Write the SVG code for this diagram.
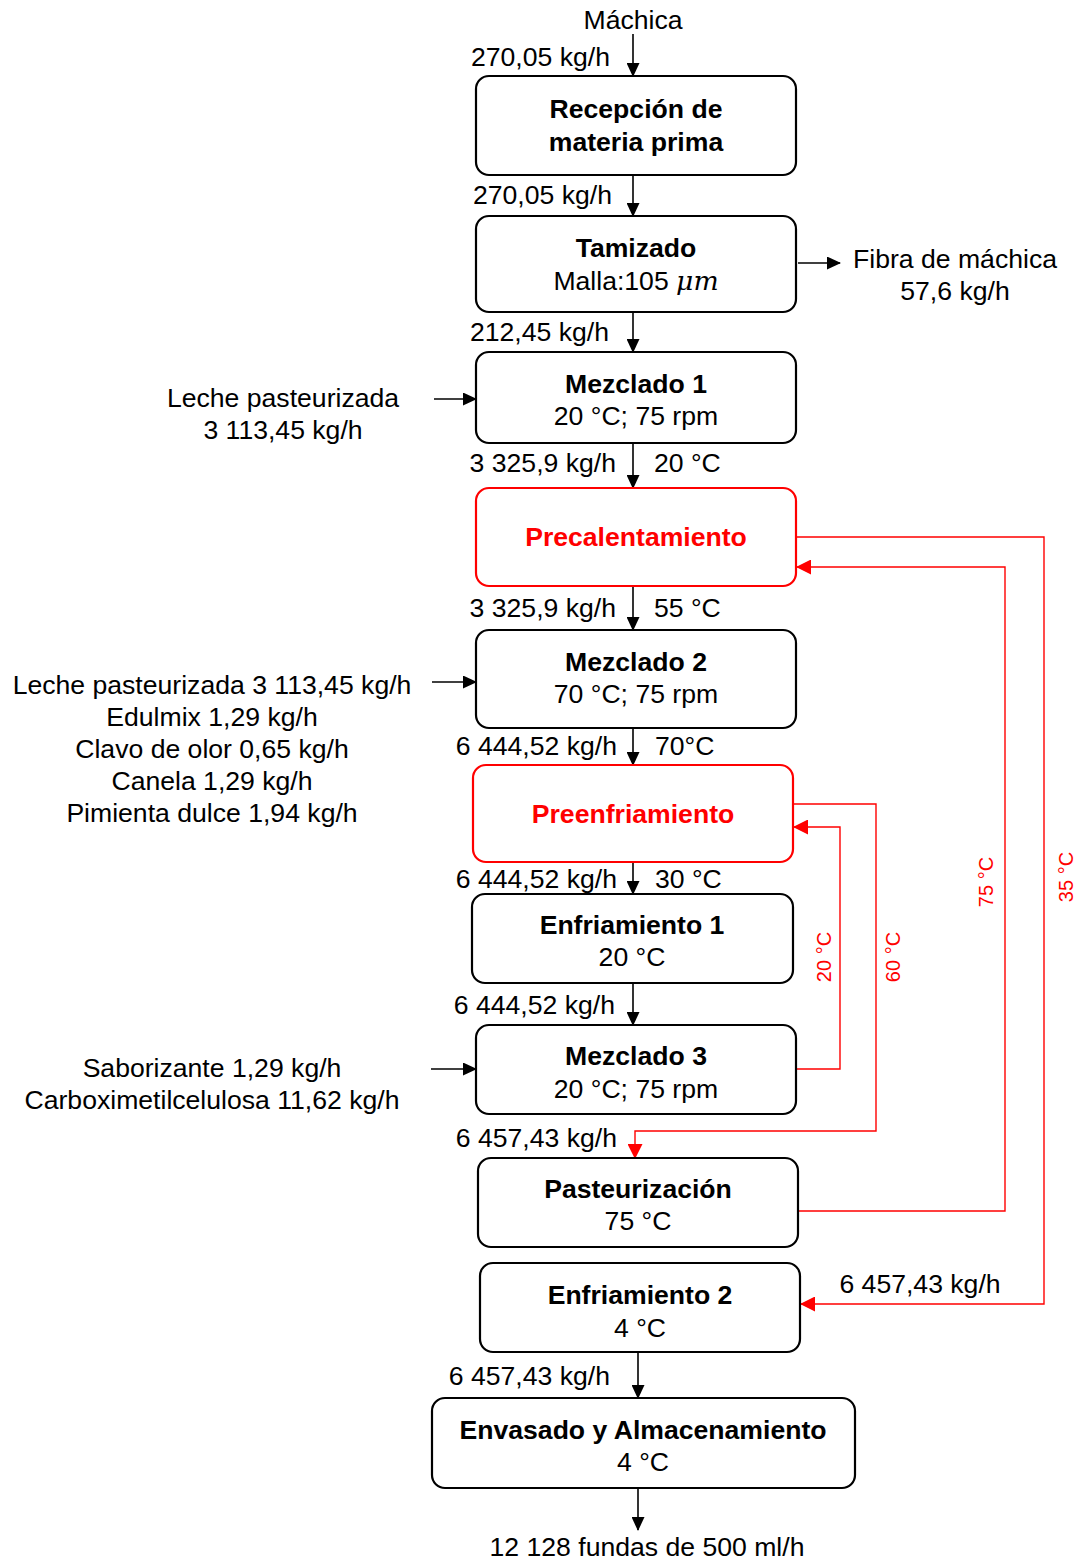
<svg xmlns="http://www.w3.org/2000/svg" width="1078" height="1562" viewBox="0 0 1078 1562">
<defs>
<marker id="ab" markerWidth="14" markerHeight="13" refX="13" refY="6.5" orient="auto" markerUnits="userSpaceOnUse"><path d="M0,0 L14,6.5 L0,13 z" fill="#000"/></marker>
<marker id="ar" markerWidth="15" markerHeight="15" refX="14" refY="7.5" orient="auto" markerUnits="userSpaceOnUse"><path d="M0,0 L15,7.5 L0,15 z" fill="#ff0000"/></marker>
</defs>
<style>
text{font-family:"Liberation Sans",Arial,Helvetica,sans-serif;font-size:26.6px;fill:#000}
.c{text-anchor:middle}
.e{text-anchor:end}
.b{font-weight:bold}
.r{fill:#ff0000}
.s{font-size:20px}
.box{fill:#fff;stroke:#000;stroke-width:2.2}
.rbox{fill:#fff;stroke:#ff0000;stroke-width:2.2}
.k{fill:none;stroke:#000;stroke-width:1.6}
.rl{fill:none;stroke:#ff0000;stroke-width:1.4}
</style>
<g id="connectors">
<line class="k" x1="633" y1="34" x2="633" y2="76" marker-end="url(#ab)"/>
<line class="k" x1="633" y1="175" x2="633" y2="216" marker-end="url(#ab)"/>
<line class="k" x1="798" y1="263" x2="840" y2="263" marker-end="url(#ab)"/>
<line class="k" x1="633" y1="312" x2="633" y2="352" marker-end="url(#ab)"/>
<line class="k" x1="434" y1="399" x2="476" y2="399" marker-end="url(#ab)"/>
<line class="k" x1="633" y1="443" x2="633" y2="488" marker-end="url(#ab)"/>
<line class="k" x1="633" y1="586" x2="633" y2="630" marker-end="url(#ab)"/>
<line class="k" x1="432" y1="682" x2="476" y2="682" marker-end="url(#ab)"/>
<line class="k" x1="633" y1="728" x2="633" y2="765" marker-end="url(#ab)"/>
<line class="k" x1="633" y1="862" x2="633" y2="894" marker-end="url(#ab)"/>
<line class="k" x1="633" y1="983" x2="633" y2="1025" marker-end="url(#ab)"/>
<line class="k" x1="431" y1="1069" x2="476" y2="1069" marker-end="url(#ab)"/>
<line class="k" x1="638" y1="1352" x2="638" y2="1398" marker-end="url(#ab)"/>
<line class="k" x1="638" y1="1488" x2="638" y2="1530" marker-end="url(#ab)"/>
<polyline class="rl" points="796,537 1044,537 1044,1304 801,1304" marker-end="url(#ar)"/>
<polyline class="rl" points="798,1211 1005,1211 1005,567 797,567" marker-end="url(#ar)"/>
<polyline class="rl" points="793,804 876,804 876,1131 635,1131 635,1158" marker-end="url(#ar)"/>
<polyline class="rl" points="796,1069 840,1069 840,827 794,827" marker-end="url(#ar)"/>
</g>
<g id="n1"><rect class="box" x="476" y="76" width="320" height="99" rx="13"/><text class="c b" x="636" y="118">Recepción de</text><text class="c b" x="636" y="151">materia prima</text></g>
<g id="n2"><rect class="box" x="476" y="216" width="320" height="96" rx="13"/><text class="c b" x="636" y="257">Tamizado</text><text class="c" x="636" y="290">Malla:105 <tspan font-family="'DejaVu Serif','Liberation Serif',serif" font-style="italic">μm</tspan></text></g>
<g id="n3"><rect class="box" x="476" y="352" width="320" height="91" rx="13"/><text class="c b" x="636" y="393">Mezclado 1</text><text class="c" x="636" y="425">20 °C; 75 rpm</text></g>
<g id="n4"><rect class="rbox" x="476" y="488" width="320" height="98" rx="13"/><text class="c b r" x="636" y="546">Precalentamiento</text></g>
<g id="n5"><rect class="box" x="476" y="630" width="320" height="98" rx="13"/><text class="c b" x="636" y="671">Mezclado 2</text><text class="c" x="636" y="703">70 °C; 75 rpm</text></g>
<g id="n6"><rect class="rbox" x="473" y="765" width="320" height="97" rx="13"/><text class="c b r" x="633" y="823">Preenfriamiento</text></g>
<g id="n7"><rect class="box" x="472" y="894" width="321" height="89" rx="13"/><text class="c b" x="632" y="934">Enfriamiento 1</text><text class="c" x="632" y="966">20 °C</text></g>
<g id="n8"><rect class="box" x="476" y="1025" width="320" height="89" rx="13"/><text class="c b" x="636" y="1065">Mezclado 3</text><text class="c" x="636" y="1098">20 °C; 75 rpm</text></g>
<g id="n9"><rect class="box" x="478" y="1158" width="320" height="89" rx="13"/><text class="c b" x="638" y="1198">Pasteurización</text><text class="c" x="638" y="1230">75 °C</text></g>
<g id="n10"><rect class="box" x="480" y="1263" width="320" height="89" rx="13"/><text class="c b" x="640" y="1304">Enfriamiento 2</text><text class="c" x="640" y="1337">4 °C</text></g>
<g id="n11"><rect class="box" x="432" y="1398" width="423" height="90" rx="13"/><text class="c b" x="643" y="1439">Envasado y Almacenamiento</text><text class="c" x="643" y="1471">4 °C</text></g>
<g id="labels">
<text class="c" x="633" y="29">Máchica</text>
<text class="e" x="610" y="66">270,05 kg/h</text>
<text class="e" x="612" y="204">270,05 kg/h</text>
<text class="c" x="955" y="268">Fibra de máchica</text>
<text class="c" x="955" y="300">57,6 kg/h</text>
<text class="e" x="609" y="341">212,45 kg/h</text>
<text class="c" x="283" y="407">Leche pasteurizada</text>
<text class="c" x="283" y="439">3 113,45 kg/h</text>
<text class="e" x="616" y="472">3 325,9 kg/h</text>
<text x="654" y="472">20 °C</text>
<text class="e" x="616" y="617">3 325,9 kg/h</text>
<text x="654" y="617">55 °C</text>
<text class="c" x="212" y="694">Leche pasteurizada 3 113,45 kg/h</text>
<text class="c" x="212" y="726">Edulmix 1,29 kg/h</text>
<text class="c" x="212" y="758">Clavo de olor 0,65 kg/h</text>
<text class="c" x="212" y="790">Canela 1,29 kg/h</text>
<text class="c" x="212" y="822">Pimienta dulce 1,94 kg/h</text>
<text class="e" x="617" y="755">6 444,52 kg/h</text>
<text x="655" y="755">70°C</text>
<text class="e" x="617" y="888">6 444,52 kg/h</text>
<text x="655" y="888">30 °C</text>
<text class="e" x="615" y="1014">6 444,52 kg/h</text>
<text class="c" x="212" y="1077">Saborizante 1,29 kg/h</text>
<text class="c" x="212" y="1109">Carboximetilcelulosa 11,62 kg/h</text>
<text class="e" x="617" y="1147">6 457,43 kg/h</text>
<text class="c" x="920" y="1293">6 457,43 kg/h</text>
<text class="e" x="610" y="1385">6 457,43 kg/h</text>
<text class="c" x="647" y="1556">12 128 fundas de 500 ml/h</text>
<text class="c r s" transform="translate(831,957) rotate(-90)">20 °C</text>
<text class="c r s" transform="translate(900,957) rotate(-90)">60 °C</text>
<text class="c r s" transform="translate(993,882) rotate(-90)">75 °C</text>
<text class="c r s" transform="translate(1073,877) rotate(-90)">35 °C</text>
</g>
</svg>
